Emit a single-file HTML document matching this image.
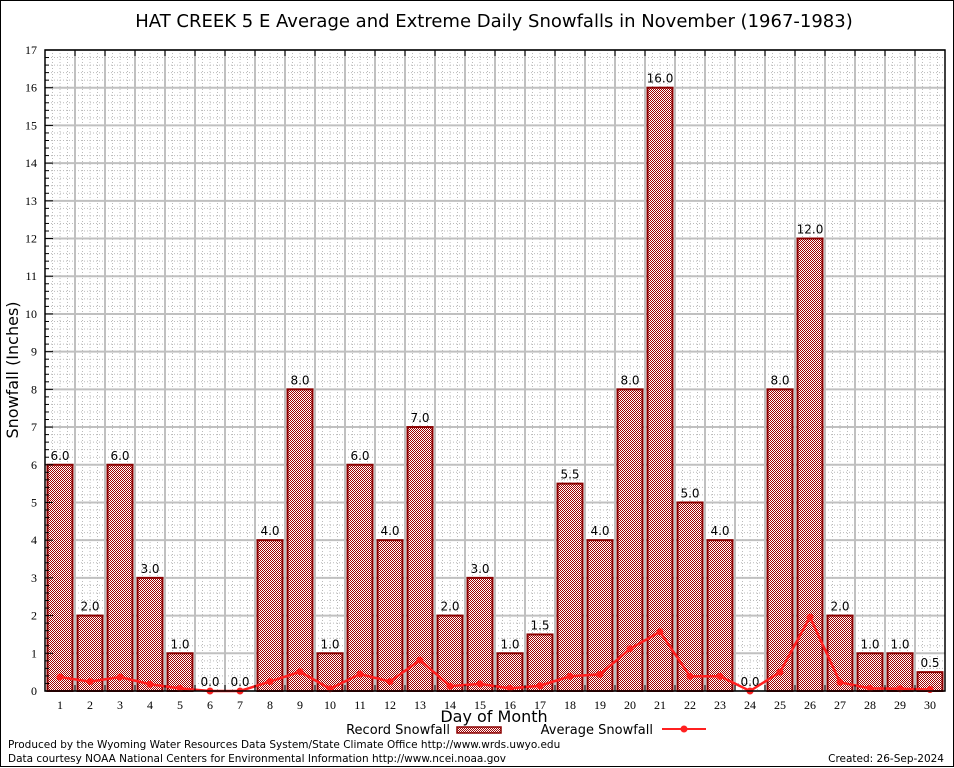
<!DOCTYPE html>
<html><head><meta charset="utf-8"><style>
html,body{margin:0;padding:0;background:#fff;}
svg{display:block;font-family:"DejaVu Sans","Liberation Sans",sans-serif;}
</style></head><body>
<svg id="chart" width="954" height="768" viewBox="0 0 954 768" xmlns="http://www.w3.org/2000/svg">
<defs>
<pattern id="chk" width="2" height="2" patternUnits="userSpaceOnUse">
<rect width="2" height="2" fill="#fff"/><rect width="1" height="1" fill="#a00000"/><rect x="1" y="1" width="1" height="1" fill="#a00000"/>
</pattern>
</defs>
<rect x="0.5" y="0.5" width="953" height="766" fill="#fff" stroke="#000"/>
<text x="494" y="27" font-size="18" text-anchor="middle" fill="#000">HAT CREEK 5 E Average and Extreme Daily Snowfalls in November (1967-1983)</text>
<g id="grid"></g>
<g id="bars"></g>
<g id="avg"></g>
<g id="axes"></g>
<text x="18" y="370" font-size="16" text-anchor="middle" transform="rotate(-90 18 370)">Snowfall (Inches)</text>
<text x="494" y="722" font-size="16" text-anchor="middle">Day of Month</text>
<g>
<text x="450" y="734" font-size="13" text-anchor="end">Record Snowfall</text>
<rect x="457" y="727" width="44" height="6" fill="url(#chk)" stroke="#8b0000" stroke-width="1.5"/>
<text x="653" y="734" font-size="13" text-anchor="end">Average Snowfall</text>
<line x1="662" y1="729" x2="706" y2="729" stroke="#ff2020" stroke-width="2"/>
<circle cx="684" cy="729" r="3.5" fill="#ff2020"/>
</g>
<text x="8" y="748" font-size="10.5">Produced by the Wyoming Water Resources Data System/State Climate Office http://www.wrds.uwyo.edu</text>
<text x="8" y="762" font-size="10.5">Data courtesy NOAA National Centers for Environmental Information http://www.ncei.noaa.gov</text>
<text x="944" y="762" font-size="10.5" text-anchor="end">Created: 26-Sep-2024</text>
</svg>
<script>
const days=[1,2,3,4,5,6,7,8,9,10,11,12,13,14,15,16,17,18,19,20,21,22,23,24,25,26,27,28,29,30];
const records=[6,2,6,3,1,0,0,4,8,1,6,4,7,2,3,1,1.5,5.5,4,8,16,5,4,0,8,12,2,1,1,0.5];
const averages=[0.37,0.25,0.37,0.18,0.07,0,0,0.25,0.51,0.06,0.45,0.25,0.82,0.13,0.19,0.07,0.14,0.39,0.44,1.12,1.57,0.39,0.39,0,0.5,1.96,0.23,0.07,0.06,0.04];
const yTicks=[0,1,2,3,4,5,6,7,8,9,10,11,12,13,14,15,16,17];
const L=45,R=945,T=50,B=691,YMAX=17;
const NS="http://www.w3.org/2000/svg";
function xs(d){return L+(d-0.5)*(R-L)/days.length;}
function ys(v){return B-v*(B-T)/YMAX;}
function mk(tag,attrs,parent){const e=document.createElementNS(NS,tag);for(const k in attrs)e.setAttribute(k,attrs[k]);parent.appendChild(e);return e;}
const grid=document.getElementById('grid'),bars=document.getElementById('bars'),avg=document.getElementById('avg'),axes=document.getElementById('axes');
const cw=(R-L)/days.length;
for(let v=0;v<YMAX;v+=0.2){const y=ys(v);const l=mk('line',{x1:L,x2:R,y1:y,y2:y,stroke:'#bbb','stroke-width':1,'stroke-dasharray':'1,2'},grid);

}
for(let i=0;i<days.length;i++){for(let k=1;k<4;k++){const x=L+i*cw+k*cw/4;const l=mk('line',{x1:x,x2:x,y1:T,y2:B,stroke:'#bbb','stroke-width':1,'stroke-dasharray':'1,2'},grid);

}}
yTicks.forEach(v=>{const y=ys(v);const l=mk('line',{x1:L,x2:R,y1:y,y2:y,stroke:'#c0c0c0','stroke-width':2},grid);


const t=mk('text',{x:L-8,y:y+4,'font-size':12,'text-anchor':'end','font-family':'Liberation Serif, serif'},axes);t.textContent=v;

});
for(let i=1;i<days.length;i++){const x=L+i*cw;const l=mk('line',{x1:x,x2:x,y1:T,y2:B,stroke:'#c0c0c0','stroke-width':2},grid);

}
days.forEach((d,i)=>{const v=records[i];const x=xs(d);
if(v>0){const r=mk('rect',{x:x-12.5,y:ys(v),width:25,height:B-ys(v),fill:'url(#chk)',stroke:'#8b0000','stroke-width':2},bars);

}
const t=mk('text',{x:x,y:ys(v)-5,'font-size':12,'text-anchor':'middle'},bars);t.textContent=v.toFixed(1);


const xt=mk('text',{x:x,y:B+18,'font-size':12,'text-anchor':'middle','font-family':'Liberation Serif, serif'},axes);xt.textContent=d;

});
const pts=days.map((d,i)=>xs(d)+','+ys(averages[i])).join(' ');
const pl=mk('polyline',{points:pts,fill:'none',stroke:'#ff2020','stroke-width':2.5},avg);


days.forEach((d,i)=>{const c=mk('circle',{cx:xs(d),cy:ys(averages[i]),r:3.5,fill:'#ff2020'},avg);

});
const fr=mk('rect',{x:L,y:T,width:R-L,height:B-T,fill:'none',stroke:'#000','stroke-width':1.5},axes);


for(let v=0;v<=YMAX+0.01;v+=0.2){const y=ys(v);const major=Math.abs(v-Math.round(v))<0.01;const l=mk('line',{x1:L,x2:L+(major?8:4),y1:y,y2:y,stroke:'#000'},axes);

}
for(let i=1;i<days.length;i++){const x=L+i*cw;const l=mk('line',{x1:x,x2:x,y1:T,y2:T+6,stroke:'#000'},axes);


const l2=mk('line',{x1:x,x2:x,y1:B,y2:B-6,stroke:'#000'},axes);

}
</script>
</body></html>
